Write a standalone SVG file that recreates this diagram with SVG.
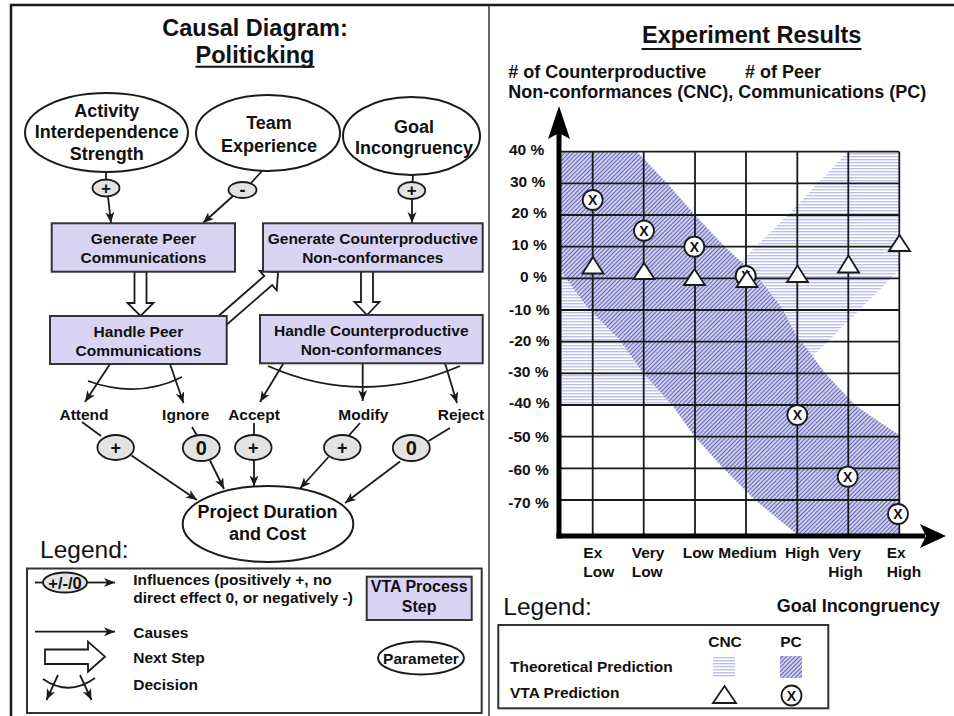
<svg xmlns="http://www.w3.org/2000/svg" width="954" height="716" viewBox="0 0 954 716">
<defs>
<style>
text{font-family:"Liberation Sans",Arial,Helvetica,sans-serif;font-weight:bold;fill:#111}
.c{text-anchor:middle}
.f18{font-size:18px}
.f15{font-size:15.5px}
.f16{font-size:16px}
.ttl{font-size:23.5px}
.leg{font-size:24.5px;font-weight:normal}
.ln{stroke:#1a1a1a;stroke-width:1.8;fill:none}
.ar{marker-end:url(#ah)}
.par{fill:#fff;stroke:#1a1a1a;stroke-width:2}
.inf{fill:#e3e3e3;stroke:#1a1a1a;stroke-width:1.8}
.box{fill:#dad4f4;stroke:#333;stroke-width:2}
.hol{fill:#fff;stroke:#1a1a1a;stroke-width:1.8;stroke-linejoin:miter}
.grid{stroke:#1a1a1a;stroke-width:1.8}
.tri{fill:#fff;stroke:#1a1a1a;stroke-width:1.8;stroke-linejoin:miter}
.cir{fill:#fff;stroke:#1a1a1a;stroke-width:1.8}
.x{font-size:14px;text-anchor:middle}
.lb{fill:none;stroke:#333;stroke-width:2}
</style>
<marker id="ah" markerUnits="userSpaceOnUse" markerWidth="12" markerHeight="10" refX="11" refY="4.5" orient="auto"><path d="M0,0 L11,4.5 L0,9 L3,4.5 Z" fill="#1a1a1a"/></marker>
<pattern id="pc" patternUnits="userSpaceOnUse" width="3" height="3" patternTransform="rotate(45)"><rect width="3" height="3" fill="#cbcbf0"/><rect width="1" height="3" fill="#6a6aae"/></pattern>
<pattern id="cnc" patternUnits="userSpaceOnUse" width="6" height="3"><rect width="6" height="3" fill="#fff"/><rect width="6" height="1.4" fill="#bfbfeb"/></pattern>
</defs>
<rect width="954" height="716" fill="#fff"/>
<g id="frame">
<path d="M11,716 V5 H954" fill="none" stroke="#1a1a1a" stroke-width="2.5"/>
<line x1="489" y1="5" x2="489" y2="716" stroke="#333" stroke-width="1.5"/>
</g>

<g id="left-title">
<text class="c ttl" x="255" y="36">Causal Diagram:</text>
<text class="c ttl" x="255" y="62.7">Politicking</text>
<line x1="195.5" y1="66.8" x2="314.5" y2="66.8" stroke="#111" stroke-width="2"/>
</g>

<g id="connectors">
<path class="ln" d="M106,172 V179.5"/>
<path class="ln ar" d="M108,196.5 L111,223"/>
<path class="ln" d="M262,171 L251,183"/>
<path class="ln ar" d="M233,196 L203,223"/>
<path class="ln" d="M413,175 L412.5,182"/>
<path class="ln ar" d="M412,199 V223"/>
<path class="hol" d="M134.5,271.7 V303 H127.5 L140.5,316 L153.5,303 H146.5 V271.7 Z"/>
<path class="hol" d="M361,271 V302 H354.5 L367,315 L379.5,302 H373 V271 Z"/>
<path class="hol" transform="translate(223,320) rotate(-41.1)" d="M0,-6 H60 V-13 L73,0 L60,13 V6 H0 Z"/>
<path class="ln ar" d="M110,364 L85,402"/>
<path class="ln ar" d="M170,364 L183.5,403"/>
<path class="ln" d="M88,381 Q138,399 182,377"/>
<path class="ln ar" d="M283.5,363.3 L260,402"/>
<path class="ln ar" d="M362.7,363.3 V401"/>
<path class="ln ar" d="M445,363.3 L457,403"/>
<path class="ln" d="M268,366 Q363,408 460,366"/>
<path class="ln" d="M82,422 L101,436"/>
<path class="ln ar" d="M131.5,455.5 L197,500"/>
<path class="ln" d="M192,427 L197,435.5"/>
<path class="ln ar" d="M210,460.5 L224,489"/>
<path class="ln" d="M254,423 V435"/>
<path class="ln ar" d="M254,460 V486.5"/>
<path class="ln" d="M360,423 L348.5,436"/>
<path class="ln ar" d="M328.5,457 L300,488.5"/>
<path class="ln" d="M450,428 L428.5,441"/>
<path class="ln ar" d="M400,461.5 L345,503"/>
</g>

<g id="n-activity"><ellipse class="par" cx="106.5" cy="132.5" rx="81.5" ry="39.5"/>
<text class="c f18" x="106.7" y="117">Activity</text><text class="c f18" x="106.7" y="138.3">Interdependence</text><text class="c f18" x="106.7" y="159.5">Strength</text></g>
<g id="n-team"><ellipse class="par" cx="268" cy="133" rx="72" ry="38"/>
<text class="c f18" x="269" y="129">Team</text><text class="c f18" x="269" y="151.7">Experience</text></g>
<g id="n-goal"><ellipse class="par" cx="411.5" cy="136" rx="68.5" ry="39"/>
<text class="c f18" x="414" y="132.7">Goal</text><text class="c f18" x="414" y="154">Incongruency</text></g>

<g id="i-activity"><ellipse class="inf" cx="106" cy="188" rx="13.5" ry="8.5"/><text class="c" font-size="17" x="106" y="193.8">+</text></g>
<g id="i-team"><ellipse class="inf" cx="242.5" cy="190" rx="14" ry="8"/><text class="c" font-size="18" x="242.5" y="195.5">-</text></g>
<g id="i-goal"><ellipse class="inf" cx="411.7" cy="190.5" rx="13.5" ry="8.5"/><text class="c" font-size="17" x="411.7" y="196.3">+</text></g>

<g id="n-gen-peer"><rect class="box" x="51.7" y="223.3" width="183.3" height="48.4"/>
<text class="c f15" x="143.4" y="244.3">Generate Peer</text><text class="c f15" x="143.4" y="262.7">Communications</text></g>
<g id="n-gen-cnc"><rect class="box" x="263" y="223.3" width="219.7" height="48.4"/>
<text class="c f15" x="372.8" y="244.3">Generate Counterproductive</text><text class="c f15" x="372.8" y="262.7">Non-conformances</text></g>
<g id="n-handle-peer"><rect class="box" x="50" y="316" width="176.7" height="48"/>
<text class="c f15" x="138.4" y="336.7">Handle Peer</text><text class="c f15" x="138.4" y="355.7">Communications</text></g>
<g id="n-handle-cnc"><rect class="box" x="260" y="315" width="222.7" height="48.3"/>
<text class="c f15" x="371.3" y="336">Handle Counterproductive</text><text class="c f15" x="371.3" y="354.5">Non-conformances</text></g>

<g id="decision-labels">
<text class="c f15" x="84" y="420">Attend</text>
<text class="c f15" x="185.8" y="420">Ignore</text>
<text class="c f15" x="254" y="420">Accept</text>
<text class="c f15" x="363.3" y="420">Modify</text>
<text class="c f15" x="461" y="420">Reject</text>
</g>

<g id="i-attend"><ellipse class="inf" cx="115.7" cy="447.5" rx="18.3" ry="12.5"/><text class="c" font-size="18" x="115.7" y="453.5">+</text></g>
<g id="i-ignore"><ellipse class="inf" cx="201.3" cy="448" rx="18.5" ry="13"/><text class="c" font-size="20" x="201.3" y="455.2">0</text></g>
<g id="i-accept"><ellipse class="inf" cx="253.3" cy="447.5" rx="18.3" ry="12.5"/><text class="c" font-size="18" x="253.3" y="453.5">+</text></g>
<g id="i-modify"><ellipse class="inf" cx="342.3" cy="447.5" rx="18.3" ry="12.5"/><text class="c" font-size="18" x="342.3" y="453.5">+</text></g>
<g id="i-reject"><ellipse class="inf" cx="411.3" cy="448" rx="18.5" ry="13"/><text class="c" font-size="20" x="411.3" y="455.2">0</text></g>

<g id="n-project"><ellipse class="par" cx="268" cy="524" rx="85.3" ry="38"/>
<text class="c f18" x="267.5" y="518.3">Project Duration</text><text class="c f18" x="267.5" y="540">and Cost</text></g>

<g id="legend-left">
<text class="leg" x="40" y="558.3">Legend:</text>
<rect class="lb" x="27" y="568.5" width="454.7" height="144.5"/>
<line class="ln" x1="35" y1="582.5" x2="43" y2="582.5"/>
<ellipse class="inf" cx="65" cy="582.5" rx="22" ry="10"/>
<text class="c" font-size="16.5" x="65" y="588.5">+/-/0</text>
<line class="ln ar" x1="87" y1="582.5" x2="115" y2="582.5"/>
<text class="f15" x="133.3" y="585">Influences (positively +, no</text>
<text class="f15" x="133.3" y="603.3">direct effect 0, or negatively -)</text>
<line class="ln ar" x1="35" y1="631.7" x2="115" y2="631.7"/>
<text class="f15" x="133.3" y="638.3">Causes</text>
<path class="hol" d="M45,649.5 H88 V641.7 L105,656.7 L88,671.7 V664 H45 Z"/>
<text class="f15" x="133.3" y="663.3">Next Step</text>
<path class="ln ar" d="M58,675 L46.5,700"/>
<path class="ln ar" d="M80,675 L91.5,700"/>
<path class="ln" d="M43,679 Q69,697 95,678"/>
<text class="f15" x="133.3" y="690">Decision</text>
<rect class="box" x="366.7" y="576.7" width="105" height="43.3"/>
<text class="c f16" x="419.2" y="592">VTA Process</text>
<text class="c f16" x="419.2" y="612">Step</text>
<ellipse class="par" cx="421" cy="658" rx="43" ry="16.5"/>
<text class="c f15" x="421" y="663.5">Parameter</text>
</g>

<g id="right-title">
<text class="c ttl" x="751.7" y="43.3">Experiment Results</text>
<line x1="641.5" y1="49" x2="861.5" y2="49" stroke="#111" stroke-width="2"/>
<text class="f18" x="508.3" y="78.3"># of Counterproductive</text>
<text class="f18" x="745" y="78.3"># of Peer</text>
<text class="f18" x="508.3" y="98.3">Non-conformances (CNC), Communications (PC)</text>
</g>

<g id="chart">
<path fill="url(#cnc)" d="M848,151.7 L899.3,151.7 L899.3,270 L764,405 L558,405 L558,262 L741,262 L755,247 L788,215 L818,183 Z"/>
<path fill="url(#pc)" d="M558,151.7 L637,151.7 L667,183 L695,215 L725,247 L758,277 L782,308 L796,335 L808,350 L825,373 L855,405 L878,421 L899.3,435 L899.3,536 L799,536 L755,500 L723,468 L695,437 L672,405 L643,373 L620,340 L588,308 L565,277 L558,268 Z"/>
<g class="grid">
<line x1="558" y1="151.7" x2="899.3" y2="151.7"/>
<line x1="558" y1="183.4" x2="899.3" y2="183.4"/>
<line x1="558" y1="215" x2="899.3" y2="215"/>
<line x1="558" y1="246.7" x2="899.3" y2="246.7"/>
<line x1="558" y1="278.4" x2="899.3" y2="278.4"/>
<line x1="558" y1="310" x2="899.3" y2="310"/>
<line x1="558" y1="341.7" x2="899.3" y2="341.7"/>
<line x1="558" y1="373.4" x2="899.3" y2="373.4"/>
<line x1="558" y1="405" x2="899.3" y2="405"/>
<line x1="558" y1="436.7" x2="899.3" y2="436.7"/>
<line x1="558" y1="468.4" x2="899.3" y2="468.4"/>
<line x1="558" y1="500" x2="899.3" y2="500"/>
<line x1="592.7" y1="151.7" x2="592.7" y2="536"/>
<line x1="643.7" y1="151.7" x2="643.7" y2="536"/>
<line x1="695" y1="151.7" x2="695" y2="536"/>
<line x1="746" y1="151.7" x2="746" y2="536"/>
<line x1="797.3" y1="151.7" x2="797.3" y2="536"/>
<line x1="848.3" y1="151.7" x2="848.3" y2="536"/>
<line x1="899.3" y1="151.7" x2="899.3" y2="536"/>
</g>
<line x1="559" y1="538.5" x2="559" y2="132" stroke="#000" stroke-width="5"/>
<path d="M559,106 L548,139 L559,133 L570,139 Z" fill="#000"/>
<line x1="556.5" y1="536" x2="925" y2="536" stroke="#000" stroke-width="5"/>
<path d="M946,536 L920,524 L926,536 L920,548 Z" fill="#000"/>
<g class="f15">
<text x="509" y="155">40 %</text>
<text x="510" y="186.7">30 %</text>
<text x="511.5" y="218.3">20 %</text>
<text x="511.5" y="250">10 %</text>
<text x="520" y="281.7">0 %</text>
<text x="509" y="315">-10 %</text>
<text x="509" y="346">-20 %</text>
<text x="508" y="376.7">-30 %</text>
<text x="509" y="408.3">-40 %</text>
<text x="508.3" y="441.7">-50 %</text>
<text x="508.3" y="475">-60 %</text>
<text x="508.3" y="508.3">-70 %</text>
<text x="583.3" y="558.3">Ex</text><text x="583.3" y="576.7">Low</text>
<text x="631.7" y="558.3">Very</text><text x="631.7" y="576.7">Low</text>
<text x="682.7" y="558.3">Low</text>
<text x="718.3" y="558.3">Medium</text>
<text x="785" y="558.3">High</text>
<text x="828.3" y="558.3">Very</text><text x="828.3" y="576.7">High</text>
<text x="886.7" y="558.3">Ex</text><text x="886.7" y="576.7">High</text>
</g>
<g id="pc-points">
<circle class="cir" cx="592.7" cy="200" r="10"/><text class="x" x="592.7" y="205">X</text>
<circle class="cir" cx="644" cy="230.7" r="10"/><text class="x" x="644" y="235.7">X</text>
<circle class="cir" cx="694.3" cy="246.7" r="10"/><text class="x" x="694.3" y="251.7">X</text>
<circle class="cir" cx="745.7" cy="276" r="10"/><text class="x" x="745.7" y="281">X</text>
<circle class="cir" cx="797.3" cy="415" r="10"/><text class="x" x="797.3" y="420">X</text>
<circle class="cir" cx="847.7" cy="476.7" r="10"/><text class="x" x="847.7" y="481.7">X</text>
<circle class="cir" cx="898" cy="514" r="10"/><text class="x" x="898" y="519">X</text>
</g>
<g id="cnc-points">
<polygon class="tri" points="582.5,273.5 593,257 603.5,273.5"/>
<polygon class="tri" points="633.5,279 644,263 654.5,279"/>
<polygon class="tri" points="684,285 694.5,269 705,285"/>
<polygon class="tri" points="736.5,287 747,271 757.5,287"/>
<polygon class="tri" points="787,282 797.5,265.5 808,282"/>
<polygon class="tri" points="838,272.5 848.5,255.5 859,272.5"/>
<polygon class="tri" points="889,251 899.5,235 910,251"/>
</g>
<text class="f18" x="776.7" y="611.7">Goal Incongruency</text>
</g>

<g id="legend-right">
<text class="leg" x="503.3" y="615">Legend:</text>
<rect class="lb" x="498.3" y="625" width="330" height="83.3"/>
<text class="c f15" x="725" y="646.7">CNC</text>
<text class="c f15" x="791" y="646.7">PC</text>
<text class="f15" x="510" y="671.7">Theoretical Prediction</text>
<text class="f15" x="510" y="698.3">VTA Prediction</text>
<rect x="713" y="656" width="22" height="22" fill="url(#cnc)"/>
<rect x="780" y="656" width="22" height="22" fill="url(#pc)"/>
<polygon class="tri" points="713,703 724.5,686 736,703"/>
<circle class="cir" cx="791.5" cy="695.5" r="10"/><text class="x" x="791.5" y="700.5">X</text>
</g>
</svg>
